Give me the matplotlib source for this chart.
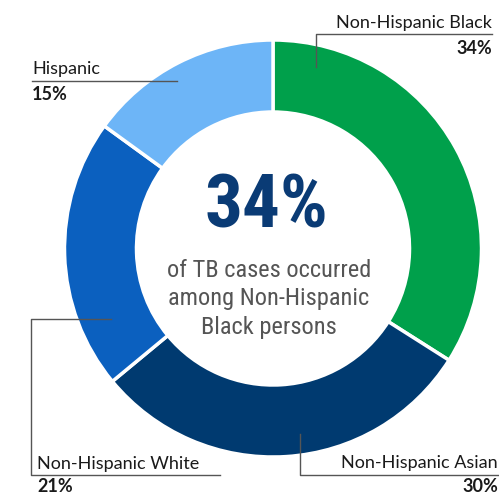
import matplotlib
matplotlib.use("Agg")
import matplotlib.pyplot as plt

categories = ["Non-Hispanic Black", "Non-Hispanic Asian", "Non-Hispanic White", "Hispanic"]
values = [34, 30, 21, 15]
colors = ["#00A04B", "#003A70", "#0B60BF", "#6DB5F7"]
pct_labels = ["34%", "30%", "21%", "15%"]
headline = "34%"
subtitle_lines = ["of TB cases occurred", "among Non-Hispanic", "Black persons"]

W, H = 499, 495
fig = plt.figure(figsize=(W / 100, H / 100), dpi=100)
ax = fig.add_axes([0, 0, 1, 1])

def Y(y):
    return H - y

cx, cy = 273, Y(248.5)
R = 208.5
ring = 72

ax.pie(values, colors=colors, startangle=90, counterclock=False,
       center=(cx, cy), radius=R,
       wedgeprops=dict(width=ring, edgecolor="white", linewidth=2.5),
       frame=True)
ax.set_xlim(0, W)
ax.set_ylim(0, H)
ax.set_aspect("equal")
ax.axis("off")

label_font = "Lato"
fs = 13
lc = "#555555"
tc = "#1a1a1a"

# Non-Hispanic Black (top right)
ax.plot([316, 316, 492], [Y(67), Y(34), Y(34)], color=lc, lw=1.0)
ax.text(492, Y(23), categories[0], ha="right", va="center", fontsize=fs, family=label_font, color=tc)
ax.text(492, Y(49), pct_labels[0], ha="right", va="center", fontsize=fs, family=label_font, weight="bold", color=tc)

# Hispanic (top left)
ax.plot([32, 177], [Y(81), Y(81)], color=lc, lw=1.0)
ax.text(32, Y(69), categories[3], ha="left", va="center", fontsize=fs, family=label_font, color=tc)
ax.text(32, Y(94), pct_labels[3], ha="left", va="center", fontsize=fs, family=label_font, weight="bold", color=tc)

# Non-Hispanic White (bottom left)
ax.plot([111, 31, 31, 220], [Y(319), Y(319), Y(475), Y(475)], color=lc, lw=1.0)
ax.text(37, Y(464), categories[2], ha="left", va="center", fontsize=fs, family=label_font, color=tc)
ax.text(37, Y(487), pct_labels[2], ha="left", va="center", fontsize=fs, family=label_font, weight="bold", color=tc)

# Non-Hispanic Asian (bottom right)
ax.plot([300, 300, 498], [Y(434), Y(475), Y(475)], color=lc, lw=1.0)
ax.text(498, Y(463), categories[1], ha="right", va="center", fontsize=fs, family=label_font, color=tc)
ax.text(498, Y(487), pct_labels[1], ha="right", va="center", fontsize=fs, family=label_font, weight="bold", color=tc)

# Center text
ax.text(266, Y(228), headline, ha="center", va="baseline", fontsize=54,
        family="Roboto Condensed", weight="bold", color="#0A3B75")
for line, base in zip(subtitle_lines, [277, 305.5, 334]):
    ax.text(269, Y(base), line, ha="center", va="baseline", fontsize=17.6,
            family="Roboto Condensed", color="#555555")

fig.savefig("out.png", dpi=100)
